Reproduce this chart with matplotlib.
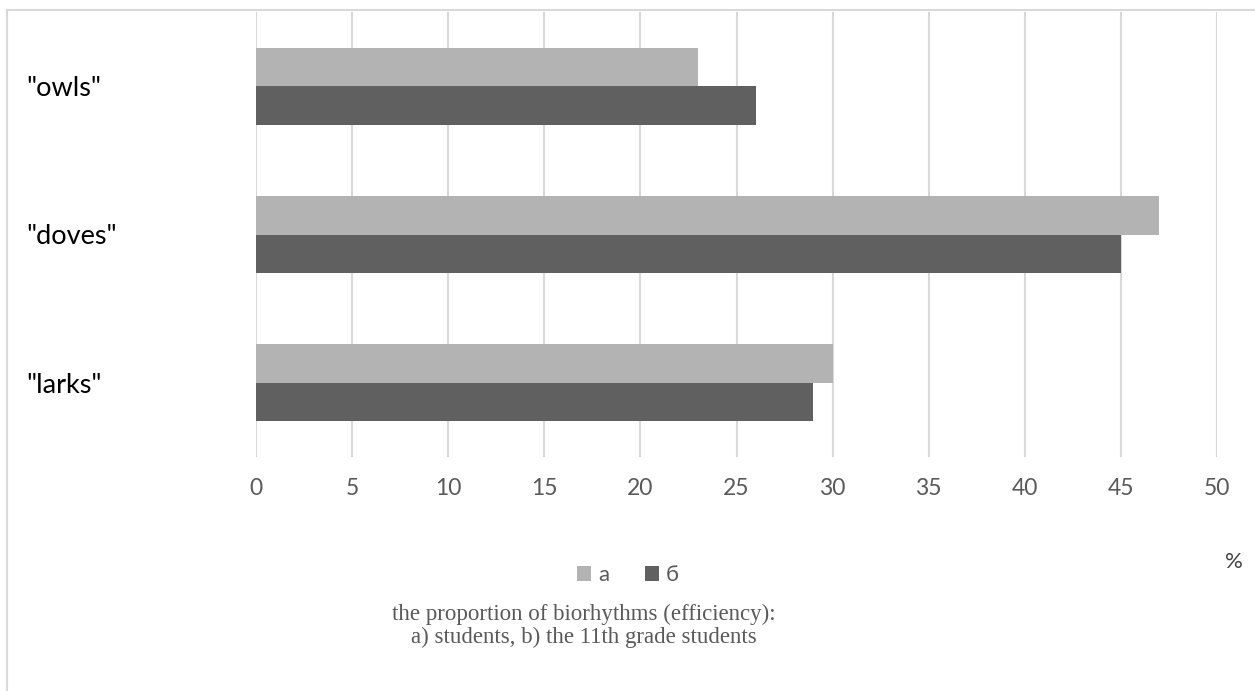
import matplotlib
matplotlib.use("Agg")
import matplotlib.pyplot as plt
from matplotlib.patches import Patch
from matplotlib.lines import Line2D
import numpy as np

categories = ['"larks"', '"doves"', '"owls"']
series_a = [30, 47, 23]
series_b = [29, 45, 26]
series_names = ["а", "б"]
xticks = [0, 5, 10, 15, 20, 25, 30, 35, 40, 45, 50]
caption = "the proportion of biorhythms (efficiency):\na) students, b) the 11th grade students"

W, H = 1255, 691
fig = plt.figure(figsize=(W / 100, H / 100), dpi=100)
plt.rcParams['font.family'] = ['Lato', 'DejaVu Sans']

left, right, top, bottom = 256, 1217, 12, 457
ax = fig.add_axes([left / W, 1 - bottom / H, (right - left) / W, (bottom - top) / H])

c_a = "#b3b3b3"
c_b = "#606060"
bh = 0.26
y = np.arange(len(categories))
ax.barh(y + bh / 2, series_a, height=bh, color=c_a, zorder=3)
ax.barh(y - bh / 2, series_b, height=bh, color=c_b, zorder=3)

ax.set_xlim(0, 50)
ax.set_ylim(-0.5, len(categories) - 0.5)
ax.set_xticks(xticks)
ax.set_xticklabels([str(t) for t in xticks])
ax.set_yticks(y)
ax.set_yticklabels(categories)
for s in ax.spines.values():
    s.set_visible(False)
ax.grid(axis='x', color="#d9d9d9", linewidth=1.5, zorder=0)
ax.grid(axis='y', visible=False)
ax.tick_params(axis='x', length=0, pad=15, labelsize=16.5, labelcolor="#595959")
ax.tick_params(axis='y', length=0, pad=(left - 26) / 100 * 72, labelsize=19.5, labelcolor="#000000")
for lab in ax.get_yticklabels():
    lab.set_horizontalalignment('left')

handles = [Patch(facecolor=c_a, edgecolor='none'), Patch(facecolor=c_b, edgecolor='none')]
fig.legend(handles, series_names, loc='center', bbox_to_anchor=(628 / W, 1 - 575 / H),
           ncol=2, frameon=False, fontsize=16, handlelength=0.65, handleheight=0.65,
           handletextpad=0.3, columnspacing=1.6, labelcolor="#595959")

fig.text(1234 / W, 1 - 562 / H, "%", ha='center', va='center', fontsize=16, color="#404040")
fig.text(584 / W, 1 - 626 / H, caption, ha='center', va='center', fontsize=16.5,
         family=['Liberation Serif'], color="#595959", linespacing=1.1)

fig.add_artist(Line2D([7 / W, 1], [1 - 10 / H, 1 - 10 / H], transform=fig.transFigure,
                      color="#d9d9d9", linewidth=1.5))
fig.add_artist(Line2D([7 / W, 7 / W], [1 - 10 / H, 0], transform=fig.transFigure,
                      color="#d9d9d9", linewidth=1.5))

fig.savefig("out.png", dpi=100)
